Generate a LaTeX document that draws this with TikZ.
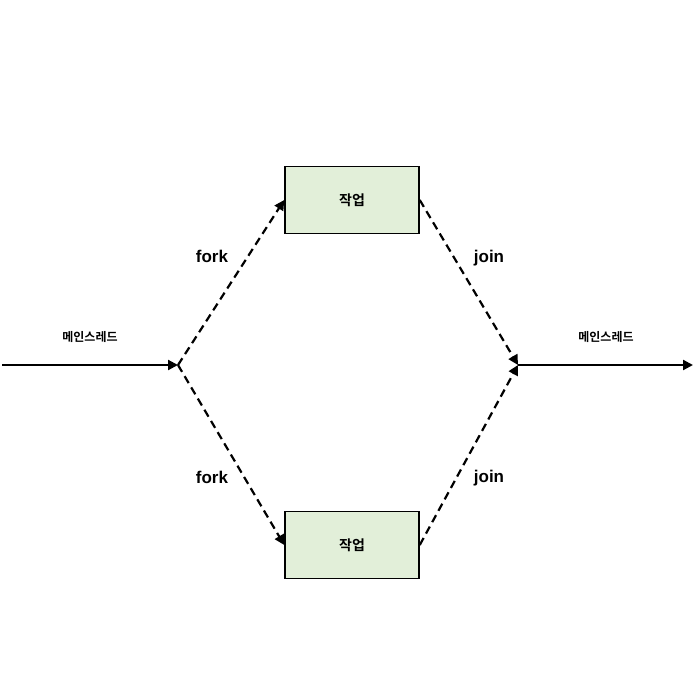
\documentclass[tikz,border=0pt]{standalone}
\usepackage{fontspec}
\setmainfont{Liberation Sans}
\newfontfamily\cjk{Noto Sans CJK KR}[BoldFont={* Bold}]
\usetikzlibrary{arrows.meta}
\begin{document}
\begin{tikzpicture}[x=1pt,y=-1pt,
  task/.style={draw,line width=1.5pt,fill={rgb,255:red,226;green,239;blue,217},minimum width=134pt,minimum height=67pt,font=\cjk\bfseries\fontsize{14}{16}\selectfont},
  dashline/.style={line width=2.2pt,dash pattern=on 8pt off 5pt,-{Triangle[length=10pt,width=10pt]}},
  mainline/.style={line width=2.2pt},
  lbl/.style={font=\bfseries\fontsize{17}{20}\selectfont},
  klbl/.style={font=\cjk\bfseries\fontsize{12}{14}\selectfont}]
\useasboundingbox (0,0) rectangle (700,700);
\coordinate (s) at (2,365);
\coordinate (f) at (178,365);
\coordinate (j) at (518,365);
\coordinate (e) at (693,365);
\node[task] (t1) at (352,200) {작업};
\node[task] (t2) at (352,545) {작업};
\draw[mainline,-{Triangle[length=10pt,width=10pt]}] (s) -- (f);
\draw[mainline,-{Triangle[length=10pt,width=10pt]}] (j) -- (e);
\draw[dashline] (f) -- (t1.west);
\draw[dashline] (f) -- (t2.west);
\draw[dashline] (t1.east) -- (j);
\draw[dashline] (t2.east) -- (j);
\node[lbl] (l1) at (212,256) {fork};
\node[lbl] (l2) at (212,477) {fork};
\node[lbl] (l3) at (489,258) {join};
\node[lbl] (l4) at (489,478) {join};
\node[klbl] (m1) at (90,337) {메인스레드};
\node[klbl] (m2) at (606,337) {메인스레드};
\end{tikzpicture}
\end{document}
